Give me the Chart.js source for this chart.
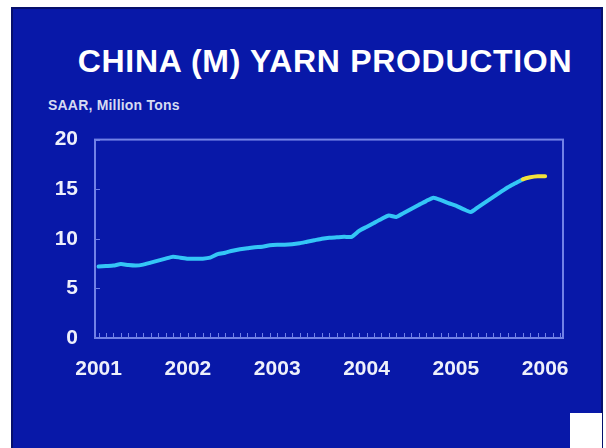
<!DOCTYPE html>
<html>
<head>
<meta charset="utf-8">
<script src="https://cdn.jsdelivr.net/npm/chart.js@4/dist/chart.umd.min.js"></script>
<style>
  html, body { margin: 0; padding: 0; background: #fff; }
  body { width: 606px; height: 448px; position: relative; overflow: hidden; font-family: "Liberation Sans", Arial, sans-serif; }
  #panel { position: absolute; left: 11px; top: 7px; width: 588px; height: 445px; background: #0818a8; border: 2px solid #06106c; }
  #titulo { position: absolute; left: 12px; top: 43px; width: 626px; text-align: center; color: #fff; font-weight: bold; font-size: 32px; letter-spacing: 0.7px; white-space: nowrap; }
  #unidad { position: absolute; left: 48px; top: 97px; color: #d6dbf2; font-weight: bold; font-size: 14px; letter-spacing: 0.2px; }
  #grafico__box { position: absolute; left: 12px; top: 110px; width: 588px; height: 280px; }
  #logo { position: absolute; left: 570px; top: 413px; width: 32px; height: 35px; background: #fff; }
</style>
</head>
<body>
<div id="panel"></div>
<div id="titulo">CHINA (M) YARN PRODUCTION</div>
<div id="unidad">SAAR, Million Tons</div>
<div id="grafico__box"><canvas id="produccion__grafico"></canvas></div>
<div id="logo"></div>
<script>
// monthly SAAR, Jan 2001 .. Jan 2006
var produccion = [
    7.2, 7.25, 7.3, 7.45, 7.35, 7.3, 7.4, 7.6, 7.8, 8.0, 8.2, 8.1,
    8.0, 8.0, 8.0, 8.1, 8.45, 8.6, 8.8, 8.95, 9.05, 9.15, 9.2, 9.35,
    9.4, 9.4, 9.45, 9.55, 9.7, 9.85, 10.0, 10.1, 10.15, 10.2, 10.2, 10.8,
    11.2, 11.6, 12.0, 12.35, 12.2, 12.6, 13.0, 13.4, 13.8, 14.15, 13.9, 13.6,
    13.35, 13.0, 12.7, 13.2, 13.7, 14.2, 14.7, 15.2, 15.6, 16.0, 16.2, 16.3,
    16.3
]
var inicioAnio = 2001
var primerEstimado = 57   // from here the line turns yellow
var anios = [2001, 2002, 2003, 2004, 2005, 2006]
var ticksY = [0, 5, 10, 15, 20]

var puntos = produccion.map((v, i) => ({ x: inicioAnio + i / 12, y: v }))

var colorMarco = '#7281e6'

const marcoPlugin = {
    id: 'marco',
    afterDatasetsDraw(chart) {
        const ctx = chart.ctx, a = chart.chartArea
        const sx = chart.scales.x, sy = chart.scales.y
        ctx.save()
        ctx.strokeStyle = colorMarco
        // monthly ticks along the bottom
        ctx.lineWidth = 1
        for (let m = -1; m <= 62; m++) {
            const px = Math.round(sx.getPixelForValue(inicioAnio + m / 12)) + 0.5
            if (px < a.left || px > a.right) continue
            ctx.beginPath()
            ctx.moveTo(px, a.bottom)
            ctx.lineTo(px, a.bottom - 5)
            ctx.stroke()
        }
        ticksY.forEach(t => {
            const py = Math.round(sy.getPixelForValue(t)) + 0.5
            ctx.beginPath()
            ctx.moveTo(a.left, py)
            ctx.lineTo(a.left + 5, py)
            ctx.stroke()
        })
        ctx.lineWidth = 2
        ctx.strokeRect(a.left, a.top, a.right - a.left, a.bottom - a.top)
        ctx.restore()
    }
}

var produccion__grafico = document.getElementById("produccion__grafico").getContext("2d");
var produccionChart = new Chart(produccion__grafico, {
    type: "line",
    data: {
        datasets: [{
            label: 'Yarn production',
            data: puntos,
            borderColor: '#34c6f6',
            borderWidth: 4,
            pointRadius: 0,
            tension: 0.2,
            borderCapStyle: 'round',
            borderJoinStyle: 'round',
            segment: {
                borderColor: ctx => ctx.p0DataIndex >= primerEstimado ? '#f2e23c' : '#34c6f6'
            }
        }]
    },
    options: {
        responsive: true,
        maintainAspectRatio: false,
        animation: false,
        layout: { padding: { left: 43, top: 29, right: 37, bottom: 12 } },
        plugins: { legend: { display: false }, tooltip: { enabled: false } },
        scales: {
            x: {
                type: 'linear',
                min: 2000.96,
                max: 2006.2,
                afterFit: s => { s.height = 40 },
                afterBuildTicks: s => { s.ticks = anios.map(v => ({ value: v })) },
                grid: { display: false, drawTicks: false },
                border: { display: false },
                ticks: {
                    color: '#eef0fb',
                    padding: 19,
                    maxRotation: 0,
                    autoSkip: false,
                    font: { family: 'Liberation Sans', weight: 'bold', size: 21 },
                    callback: v => String(v)
                }
            },
            y: {
                min: 0,
                max: 20,
                afterFit: s => { s.width = 40 },
                afterBuildTicks: s => { s.ticks = ticksY.map(v => ({ value: v })) },
                grid: { display: false, drawTicks: false },
                border: { display: false },
                ticks: {
                    color: '#eef0fb',
                    padding: 17,
                    font: { family: 'Liberation Sans', weight: 'bold', size: 21 }
                }
            }
        }
    },
    plugins: [marcoPlugin]
})
</script>
</body>
</html>
